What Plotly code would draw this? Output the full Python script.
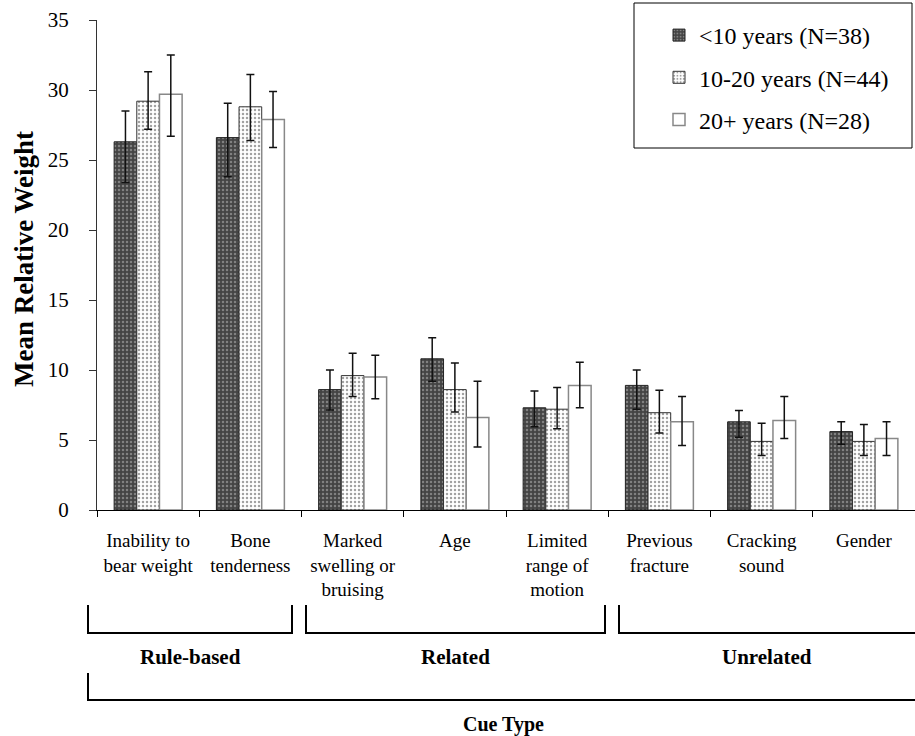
import plotly.graph_objects as go

categories = ["Inability to<br>bear weight", "Bone<br>tenderness", "Marked<br>swelling or<br>bruising",
              "Age", "Limited<br>range of<br>motion", "Previous<br>fracture", "Cracking<br>sound", "Gender"]
series_names = ["&lt;10 years (N=38)", "10-20 years (N=44)", "20+ years (N=28)"]

lt10 = [26.3, 26.6, 8.6, 10.8, 7.3, 8.9, 6.3, 5.6]
lt10_plus = [2.2, 2.45, 1.4, 1.5, 1.2, 1.1, 0.8, 0.7]
lt10_minus = [2.9, 2.8, 1.45, 1.6, 1.35, 1.7, 1.1, 0.9]

y10_20 = [29.2, 28.8, 9.6, 8.6, 7.2, 6.95, 4.9, 4.9]
y10_20_plus = [2.1, 2.3, 1.6, 1.9, 1.55, 1.6, 1.3, 1.2]
y10_20_minus = [2.0, 2.4, 1.5, 1.6, 1.4, 1.45, 1.0, 1.0]

y20p = [29.7, 27.9, 9.5, 6.6, 8.9, 6.3, 6.4, 5.1]
y20p_plus = [2.8, 2.0, 1.55, 2.6, 1.65, 1.8, 1.7, 1.2]
y20p_minus = [3.0, 2.0, 1.55, 2.1, 1.6, 1.7, 1.3, 1.2]

group_labels = ["Rule-based", "Related", "Unrelated"]
outer_label = "Cue Type"
y_title = "Mean Relative Weight"

FONT = "Liberation Serif"
W, H = 915, 736
L, R, T, B = 97, 0, 20, 226
PW, PH = W - L - R, H - T - B


def px(x):
    return (x - L) / PW


def py(y):
    return (H - B - y) / PH


fig = go.Figure()
styles = [
    dict(color="#444444", pattern=dict(shape=".", fgcolor="#bdbdbd", size=4, solidity=0.3),
         line=dict(color="#222222", width=1)),
    dict(color="#ffffff", pattern=dict(shape=".", fgcolor="#444444", size=4, solidity=0.3),
         line=dict(color="#333333", width=1)),
    dict(color="#ffffff", line=dict(color="#888888", width=1.5)),
]
vals = [(lt10, lt10_plus, lt10_minus), (y10_20, y10_20_plus, y10_20_minus), (y20p, y20p_plus, y20p_minus)]
for i, (name, (v, ep, em)) in enumerate(zip(series_names, vals)):
    fig.add_trace(go.Bar(
        x=categories, y=v, name=name, marker=styles[i], legendgroup=f"g{i}",
        error_y=dict(type="data", symmetric=False, array=ep, arrayminus=em,
                     color="#111111", thickness=1.5, width=4),
    ))

fig.update_layout(
    width=W, height=H, margin=dict(l=L, r=R, t=T, b=B, autoexpand=False),
    paper_bgcolor="white", plot_bgcolor="white",
    barmode="group", bargap=0.335, bargroupgap=0,
    font=dict(family=FONT, size=18, color="black"),
    showlegend=True,
    legend=dict(x=px(659), y=py(13), xanchor="left", yanchor="top",
                font=dict(family=FONT, size=24), tracegroupgap=8,
                bgcolor="rgba(0,0,0,0)", borderwidth=0),
    xaxis=dict(type="category", range=[-0.5, 7.5], tickson="boundaries", ticks="outside",
               ticklen=6, tickcolor="black", showline=True, linecolor="black", linewidth=1,
               showgrid=False, tickfont=dict(family=FONT, size=19), ticklabelstandoff=13),
    yaxis=dict(range=[0, 35], dtick=5, ticks="outside", ticklen=7, tickcolor="#333333",
               showline=True, linecolor="#333333", linewidth=1, showgrid=False, zeroline=False,
               tickfont=dict(family=FONT, size=21), ticklabelstandoff=16),
)

shapes = []
line = dict(color="black", width=2)
shapes.append(dict(type="rect", xref="paper", yref="paper", x0=px(634), x1=px(912), y0=py(3), y1=py(148),
                   line=dict(color="black", width=1), fillcolor="rgba(0,0,0,0)"))
brackets = [(88, 292), (306, 605), (619, 918)]
for x0, x1 in brackets:
    shapes.append(dict(type="path", xref="paper", yref="paper",
                       path=f"M{px(x0)},{py(605)} L{px(x0)},{py(633)} L{px(x1)},{py(633)} L{px(x1)},{py(605)}",
                       line=line))
shapes.append(dict(type="path", xref="paper", yref="paper",
                   path=f"M{px(88)},{py(673)} L{px(88)},{py(700)} L{px(918)},{py(700)}", line=line))
fig.update_layout(shapes=shapes)

ann = []
for lab, xc in zip(group_labels, [190, 455, 767]):
    ann.append(dict(text=f"<b>{lab}</b>", x=px(xc), y=py(657), xref="paper", yref="paper",
                    showarrow=False, font=dict(family=FONT, size=21), xanchor="center", yanchor="middle"))
ann.append(dict(text=f"<b>{outer_label}</b>", x=px(503), y=py(724), xref="paper", yref="paper",
                showarrow=False, font=dict(family=FONT, size=20), xanchor="center", yanchor="middle"))
ann.append(dict(text=f"<b>{y_title}</b>", x=px(24), y=py(259), xref="paper", yref="paper", textangle=-90,
                showarrow=False, font=dict(family=FONT, size=27), xanchor="center", yanchor="middle"))
fig.update_layout(annotations=ann)

fig.write_html("out.html")
